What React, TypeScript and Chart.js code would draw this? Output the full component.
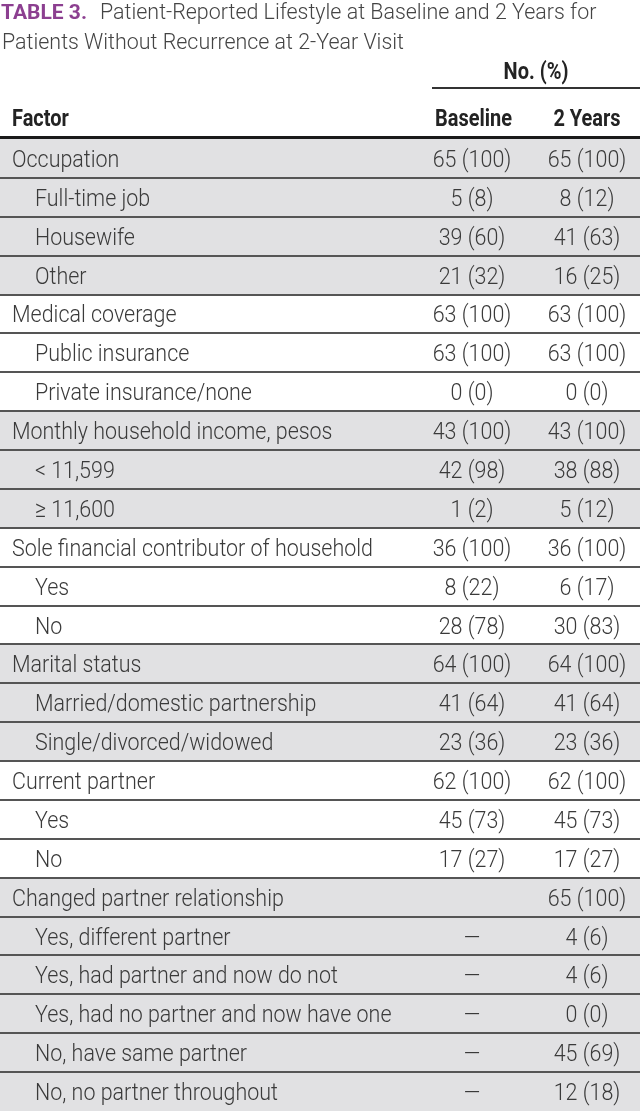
import React, { useEffect, useRef } from "react";
import { Chart, registerables } from "chart.js";

Chart.register(...registerables);

// ---- Data ----
const titleLabel = "TABLE 3.";
const titleLine1 = "Patient-Reported Lifestyle at Baseline and 2 Years for";
const titleLine2 = "Patients Without Recurrence at 2-Year Visit";
const groupHeader = "No. (%)";
const columnHeaders = ["Factor", "Baseline", "2 Years"];

const factors = [
  "Occupation",
  "Full-time job",
  "Housewife",
  "Other",
  "Medical coverage",
  "Public insurance",
  "Private insurance/none",
  "Monthly household income, pesos",
  "< 11,599",
  "≥ 11,600",
  "Sole financial contributor of household",
  "Yes",
  "No",
  "Marital status",
  "Married/domestic partnership",
  "Single/divorced/widowed",
  "Current partner",
  "Yes",
  "No",
  "Changed partner relationship",
  "Yes, different partner",
  "Yes, had partner and now do not",
  "Yes, had no partner and now have one",
  "No, have same partner",
  "No, no partner throughout",
];

// 0 = category header, 1 = sub-item
const levels = [0, 1, 1, 1, 0, 1, 1, 0, 1, 1, 0, 1, 1, 0, 1, 1, 0, 1, 1, 0, 1, 1, 1, 1, 1];

// 1 = shaded group
const shaded = [1, 1, 1, 1, 0, 0, 0, 1, 1, 1, 0, 0, 0, 1, 1, 1, 0, 0, 0, 1, 1, 1, 1, 1, 1];

const baseline = [
  "65 (100)", "5 (8)", "39 (60)", "21 (32)",
  "63 (100)", "63 (100)", "0 (0)",
  "43 (100)", "42 (98)", "1 (2)",
  "36 (100)", "8 (22)", "28 (78)",
  "64 (100)", "41 (64)", "23 (36)",
  "62 (100)", "45 (73)", "17 (27)",
  "", "—", "—", "—", "—", "—",
];

const twoYears = [
  "65 (100)", "8 (12)", "41 (63)", "16 (25)",
  "63 (100)", "63 (100)", "0 (0)",
  "43 (100)", "38 (88)", "5 (12)",
  "36 (100)", "6 (17)", "30 (83)",
  "64 (100)", "41 (64)", "23 (36)",
  "62 (100)", "45 (73)", "17 (27)",
  "65 (100)", "4 (6)", "4 (6)", "0 (0)", "45 (69)", "12 (18)",
];

// ---- Layout / style constants ----
const W = 640;
const H = 1111;
const FONT = 'Roboto, "DejaVu Sans", sans-serif';
const TEXT = "#3a3a3a";
const HEAD = "#232323";
const SHADE = "#e1e1e3";
const LINE = "#555555";
const PURPLE = "#8c3f90";
const COL_BASE = 472;
const COL_TWO = 587;

function drawScaled(ctx: any, text: string, px: number, py: number, align: string, sx: number) {
  ctx.save();
  ctx.translate(px, py);
  ctx.scale(sx, 1);
  ctx.textAlign = align;
  ctx.fillText(text, 0, 0);
  ctx.restore();
}

const tablePlugin = {
  id: "tableText",
  afterDatasetsDraw(chart: any) {
    const { ctx, chartArea, scales } = chart;
    const y = scales.y;
    const x = scales.x;
    const n = factors.length;
    const band = y.getPixelForValue(1) - y.getPixelForValue(0);
    ctx.save();
    ctx.textBaseline = "alphabetic";

    // ---- title ----
    ctx.font = `bold 21px ${FONT}`;
    const sxTL = 86 / ctx.measureText(titleLabel).width;
    ctx.fillStyle = PURPLE;
    drawScaled(ctx, titleLabel, x.getPixelForValue(1), 19, "left", sxTL);

    ctx.font = `300 21.5px ${FONT}`;
    const sxT = 402 / ctx.measureText(titleLine2).width;
    ctx.fillStyle = "#444";
    drawScaled(ctx, titleLine1, x.getPixelForValue(100), 19, "left", sxT);
    drawScaled(ctx, titleLine2, x.getPixelForValue(2), 49, "left", sxT);

    // ---- headers ----
    ctx.font = `bold 23px ${FONT}`;
    const sxH = 77 / ctx.measureText(columnHeaders[1]).width;
    ctx.fillStyle = HEAD;
    drawScaled(ctx, groupHeader, x.getPixelForValue(536), 79, "center", sxH);
    drawScaled(ctx, columnHeaders[0], x.getPixelForValue(12), 126, "left", sxH);
    drawScaled(ctx, columnHeaders[1], x.getPixelForValue(473.5), 126, "center", sxH);
    drawScaled(ctx, columnHeaders[2], x.getPixelForValue(587), 126, "center", sxH);

    ctx.strokeStyle = "#333";
    ctx.lineWidth = 2;
    ctx.beginPath();
    ctx.moveTo(x.getPixelForValue(432), 88);
    ctx.lineTo(x.getPixelForValue(W), 88);
    ctx.stroke();

    // thick header rule
    ctx.strokeStyle = "#1a1a1a";
    ctx.lineWidth = 3;
    ctx.beginPath();
    ctx.moveTo(chartArea.left, chartArea.top - 1.5);
    ctx.lineTo(chartArea.right, chartArea.top - 1.5);
    ctx.stroke();

    // row separators
    ctx.strokeStyle = LINE;
    ctx.lineWidth = 2;
    for (let i = 0; i < n - 1; i++) {
      const yy = Math.round(y.getPixelForValue(i) + band / 2);
      ctx.beginPath();
      ctx.moveTo(chartArea.left, yy);
      ctx.lineTo(chartArea.right, yy);
      ctx.stroke();
    }

    // ---- cells ----
    ctx.font = `300 24px ${FONT}`;
    const sxB = 361 / ctx.measureText(factors[10]).width;
    ctx.fillStyle = TEXT;
    for (let i = 0; i < n; i++) {
      const yy = y.getPixelForValue(i) + 8.5;
      drawScaled(ctx, factors[i], x.getPixelForValue(levels[i] ? 35 : 12), yy, "left", sxB);
      if (baseline[i]) drawScaled(ctx, baseline[i], x.getPixelForValue(COL_BASE), yy, "center", sxB);
      if (twoYears[i]) drawScaled(ctx, twoYears[i], x.getPixelForValue(COL_TWO), yy, "center", sxB);
    }
    ctx.restore();
  },
};

export default function App() {
  const ref = useRef<HTMLCanvasElement | null>(null);
  useEffect(() => {
    document.body.style.margin = "0";
    const canvas = ref.current;
    if (!canvas) return;
    const chart = new Chart(canvas, {
      type: "bar",
      data: {
        labels: factors,
        datasets: [
          {
            data: shaded.map((s) => (s ? [0, W] : null)) as any,
            backgroundColor: SHADE,
            borderWidth: 0,
            barPercentage: 1,
            categoryPercentage: 1,
          },
        ],
      },
      options: {
        indexAxis: "y",
        animation: false,
        responsive: false,
        devicePixelRatio: 1,
        layout: { padding: { top: 139, left: 0, right: 0, bottom: 0 } },
        scales: {
          x: { type: "linear", min: 0, max: W, display: false },
          y: { type: "category", display: false, offset: true },
        },
        plugins: {
          legend: { display: false },
          tooltip: { enabled: false },
          title: { display: false },
        },
      },
      plugins: [tablePlugin],
    });
    return () => chart.destroy();
  }, []);
  return (
    <div style={{ width: W, height: H, background: "#fff" }}>
      <canvas ref={ref} width={W} height={H} style={{ width: W, height: H, display: "block" }} />
    </div>
  );
}
